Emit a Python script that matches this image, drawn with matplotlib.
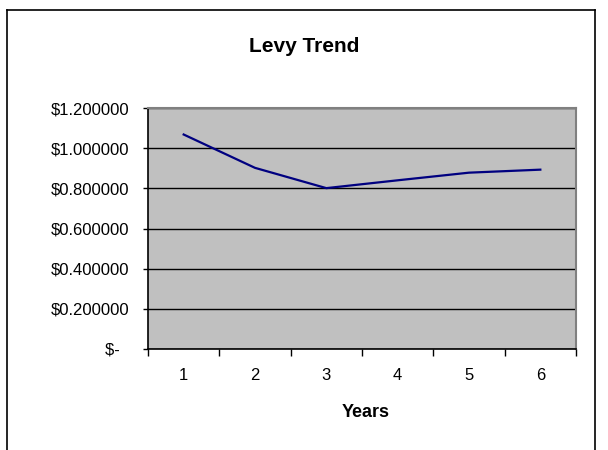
import numpy as np
import matplotlib
matplotlib.use("Agg")
import matplotlib.pyplot as plt
from matplotlib.ticker import FuncFormatter, FixedLocator
from matplotlib.lines import Line2D

plt.rcParams['font.family'] = ['Liberation Sans', 'DejaVu Sans']

years = [1, 2, 3, 4, 5, 6]
levy = [1.068, 0.902, 0.801, 0.840, 0.878, 0.893]
yticks = [0.0, 0.2, 0.4, 0.6, 0.8, 1.0, 1.2]

fig = plt.figure(figsize=(6.08, 4.5), dpi=100)
ax = fig.add_axes([148 / 608, 101 / 450, 428 / 608, 241 / 450])
ax.set_facecolor('#c0c0c0')

x = np.arange(len(years))
ax.plot(x, levy, color='#000080', lw=1.6, zorder=3)

ax.set_xlim(-0.5, len(years) - 0.5)
ax.set_ylim(0, 1.2)
ax.set_yticks(yticks)
# Excel accounting style: zero shows as "$-" with trailing padding
ax.yaxis.set_major_formatter(FuncFormatter(lambda v, p: '$-  ' if v == 0 else f'${v:.6f}'))
ax.grid(axis='y', color='black', lw=1)

# category labels in the middle, tick marks on the boundaries
ax.set_xticks(x)
ax.set_xticklabels([str(y) for y in years])
ax.xaxis.set_minor_locator(FixedLocator(np.arange(len(years) + 1) - 0.5))
ax.tick_params(axis='x', which='major', length=0, pad=14, labelsize=12)
ax.tick_params(axis='x', which='minor', length=5, width=1, color='black')
ax.tick_params(axis='y', length=3.6, width=1, color='black', pad=9.8, labelsize=12)

for s in ['top', 'right']:
    ax.spines[s].set_color('#808080')
    ax.spines[s].set_linewidth(1.5)
for s in ['left', 'bottom']:
    ax.spines[s].set_color('black')
    ax.spines[s].set_linewidth(1.2)

fig.text(0.5, 1 - 51.7 / 450, 'Levy Trend', ha='center', va='baseline',
         fontsize=15, fontweight='bold')
fig.text(366 / 608, 1 - 416.7 / 450, 'Years', ha='center', va='baseline',
         fontsize=13, fontweight='bold')

# outer chart border (bottom is cut off in the reference)
x0, x1, y0 = 6.5 / 608, 595 / 608, 1 - 9.7 / 450
for xs, ys in [([x0, x1], [y0, y0]), ([x0, x0], [0, y0]), ([x1, x1], [0, y0])]:
    fig.add_artist(Line2D(xs, ys, color='black', lw=1.2, transform=fig.transFigure))

fig.savefig('out.png', dpi=100)
